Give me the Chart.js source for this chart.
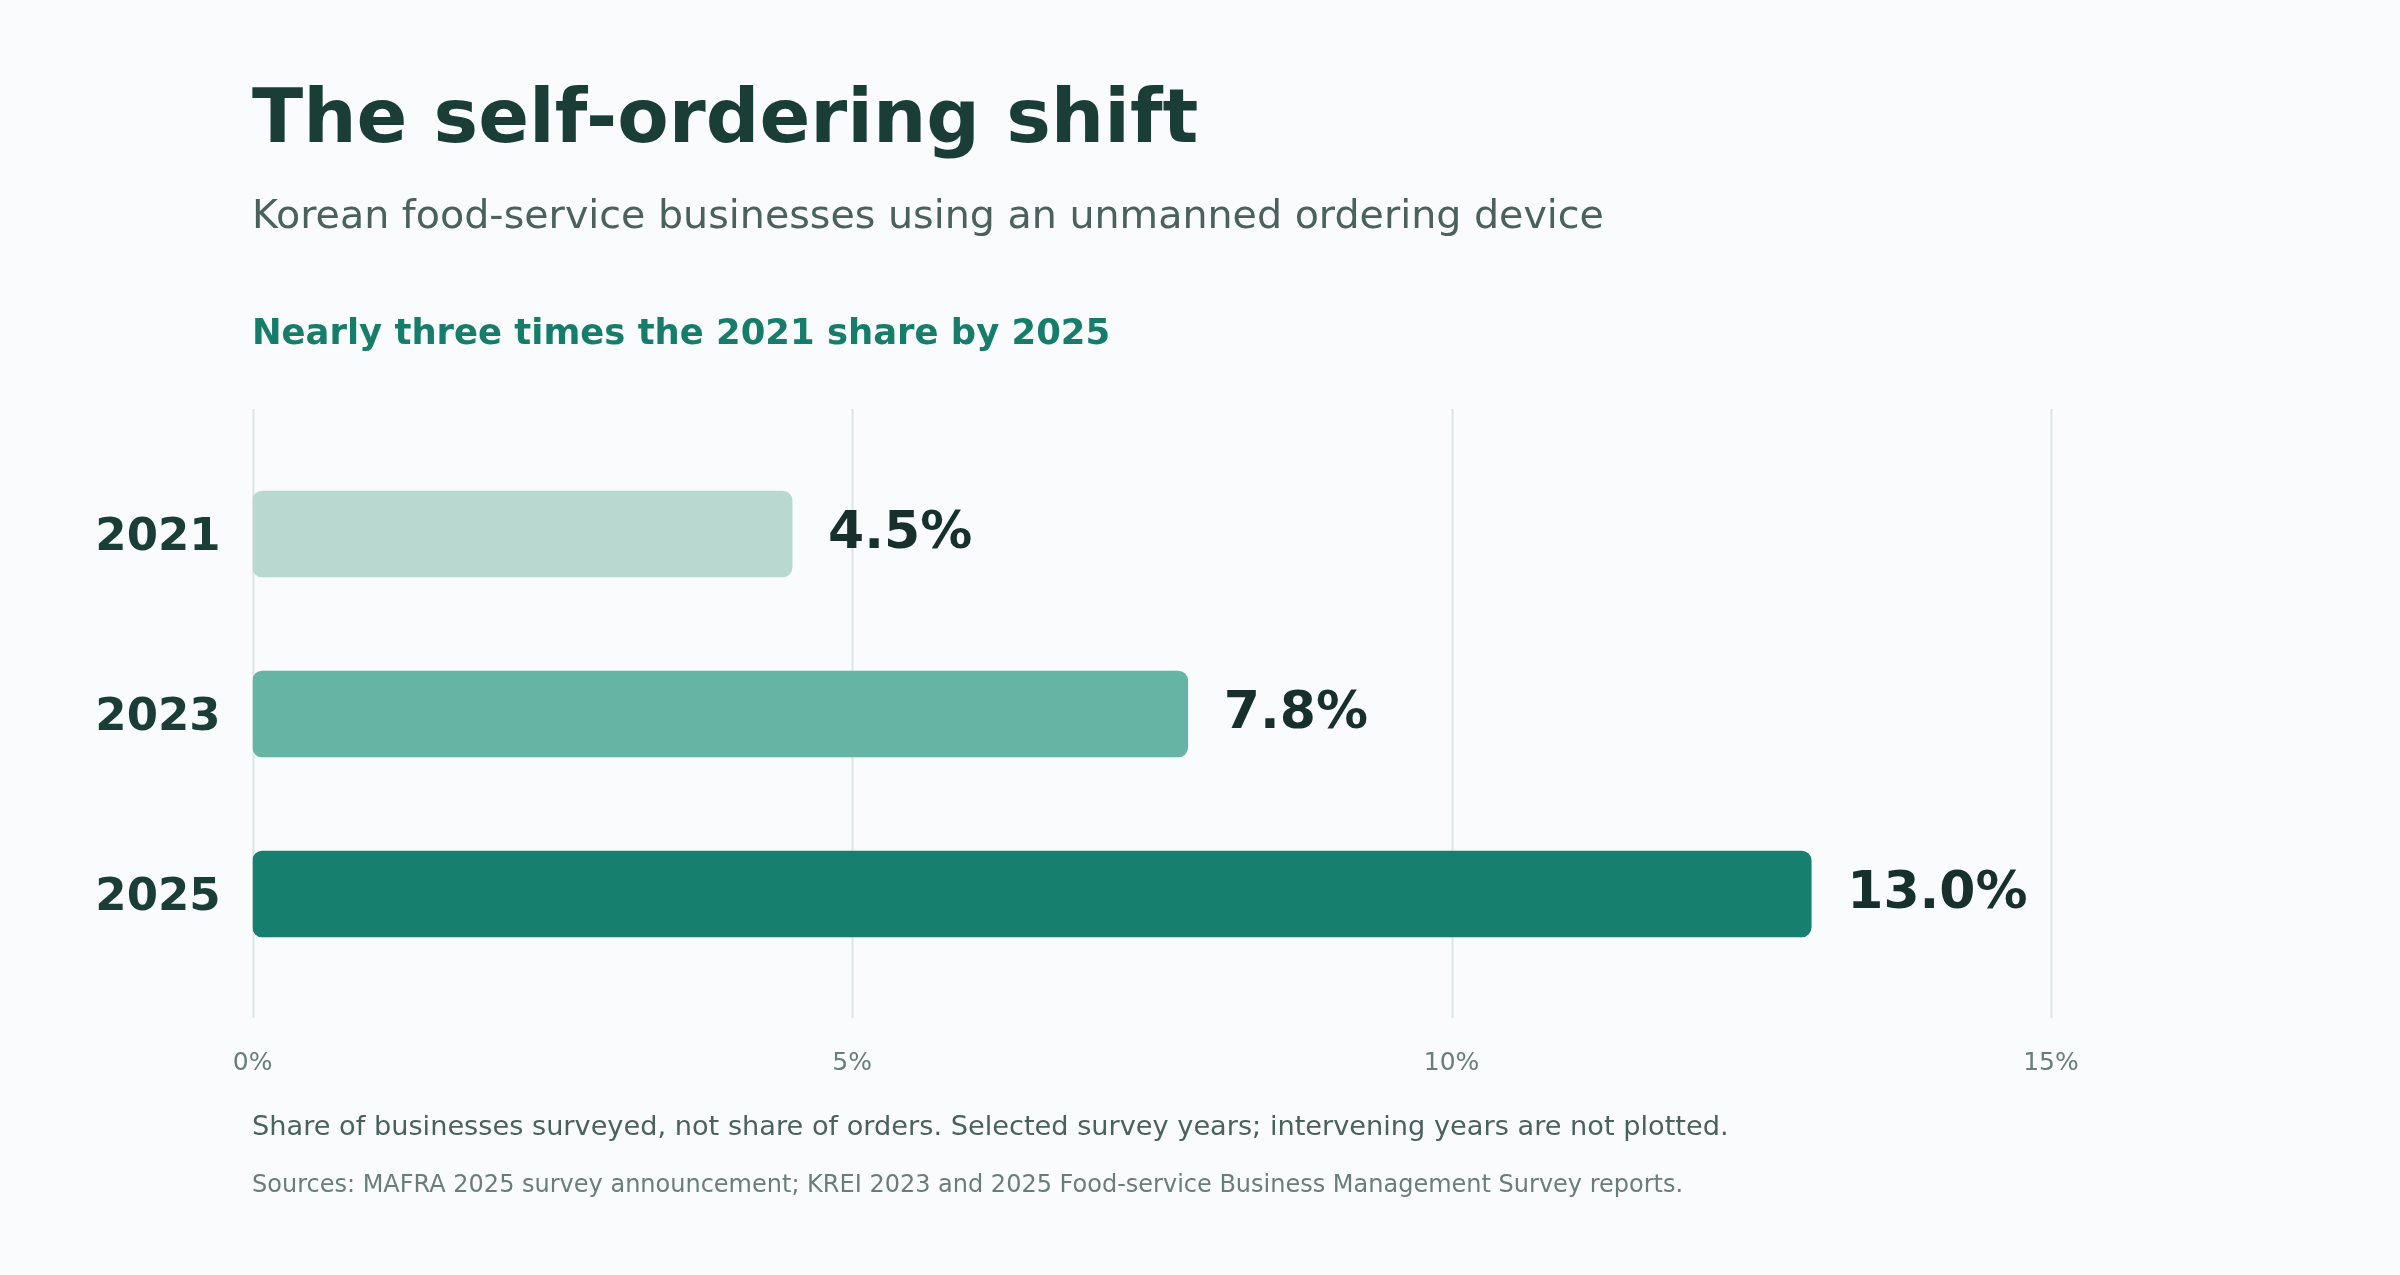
<!DOCTYPE html>
<html>
<head>
<meta charset="utf-8">
<title>The self-ordering shift</title>
<script src="https://cdn.jsdelivr.net/npm/chart.js@4.4.1/dist/chart.umd.min.js"></script>
<style>
  html, body { margin: 0; padding: 0; background: #f9fbfc; }
  body { width: 2400px; height: 1275px; position: relative; overflow: hidden; font-family: "DejaVu Sans", sans-serif; }
  .texto { position: absolute; left: 252px; line-height: 1; white-space: nowrap; }
  #titulo { top: 79px; font-size: 75px; font-weight: bold; color: #1a3d38; }
  #subtitulo { top: 195px; font-size: 39.6px; color: #4b615c; }
  #destaque { top: 314px; font-size: 35.4px; font-weight: bold; color: #177d6b; }
  #nota { top: 1112px; font-size: 27.2px; color: #4b615c; }
  #fontes { top: 1172px; font-size: 24px; color: #6b7d79; }
  #grafico { position: absolute; left: 0; top: 0; }
</style>
</head>
<body>
<canvas id="grafico" width="2400" height="1275"></canvas>
<div class="texto" id="titulo">The self-ordering shift</div>
<div class="texto" id="subtitulo">Korean food-service businesses using an unmanned ordering device</div>
<div class="texto" id="destaque">Nearly three times the 2021 share by 2025</div>
<div class="texto" id="nota">Share of businesses surveyed, not share of orders. Selected survey years; intervening years are not plotted.</div>
<div class="texto" id="fontes">Sources: MAFRA 2025 survey announcement; KREI 2023 and 2025 Food-service Business Management Survey reports.</div>

<script>
// Dados do gráfico
const anos = ['2021', '2023', '2025'];
const percentuais = [4.5, 7.8, 13.0];
const coresBarras = ['#b8d8d0', '#66b4a3', '#177f6d'];
const marcasEixo = [0, 5, 10, 15];

// Linhas verticais da grade, um pouco mais longas que a área do gráfico
const gradePlugin = {
    id: 'gradeVertical',
    beforeDatasetsDraw(chart) {
        const ctx = chart.ctx;
        const area = chart.chartArea;
        const x = chart.scales.x;
        ctx.save();
        ctx.strokeStyle = '#dbe5e3';
        ctx.lineWidth = 2;
        x.ticks.forEach(t => {
            const px = Math.round(x.getPixelForValue(t.value)) + 0.5;
            ctx.beginPath();
            ctx.moveTo(px, area.top - 35);
            ctx.lineTo(px, area.bottom + 34);
            ctx.stroke();
        });
        ctx.restore();
    }
};

// Rótulos de valor ao lado de cada barra
const rotulosPlugin = {
    id: 'rotulosValor',
    afterDatasetsDraw(chart) {
        const ctx = chart.ctx;
        const meta = chart.getDatasetMeta(0);
        ctx.save();
        ctx.font = 'bold 52px "DejaVu Sans"';
        ctx.fillStyle = '#17302b';
        ctx.textAlign = 'left';
        ctx.textBaseline = 'middle';
        meta.data.forEach((barra, i) => {
            ctx.fillText(percentuais[i].toFixed(1) + '%', barra.x + 36, barra.y);
        });
        ctx.restore();
    }
};

const config = {
    type: 'bar',
    data: {
        labels: anos,
        datasets: [{
            data: percentuais,
            backgroundColor: coresBarras,
            barThickness: 86,
            borderRadius: 10,
            borderSkipped: false,
        }],
    },
    options: {
        indexAxis: 'y',
        responsive: false,
        animation: false,
        devicePixelRatio: 1,
        layout: {
            padding: { top: 444, right: 349, bottom: 191, left: 0 }
        },
        scales: {
            x: {
                min: 0,
                max: 15,
                afterBuildTicks: (scale) => {
                    scale.ticks = marcasEixo.map(v => ({ value: v }));
                },
                afterFit: (scale) => { scale.height = 100; },
                grid: { display: false, drawTicks: false },
                border: { display: false },
                ticks: {
                    padding: 64,
                    color: '#6b7d79',
                    font: { family: 'DejaVu Sans', size: 25 },
                    callback: (v) => v + '%',
                },
            },
            y: {
                afterFit: (scale) => { scale.width = 252.6; },
                grid: { display: false, drawTicks: false },
                border: { display: false },
                ticks: {
                    padding: 32,
                    labelOffset: 4,
                    color: '#1a3d38',
                    font: { family: 'DejaVu Sans', size: 45, weight: 'bold' },
                },
            },
        },
        plugins: {
            legend: { display: false },
            tooltip: { enabled: false },
        },
    },
    plugins: [gradePlugin, rotulosPlugin],
};

window.onload = function() {
    const ctx = document.getElementById('grafico').getContext('2d');
    new Chart(ctx, config);
};
</script>
</body>
</html>
